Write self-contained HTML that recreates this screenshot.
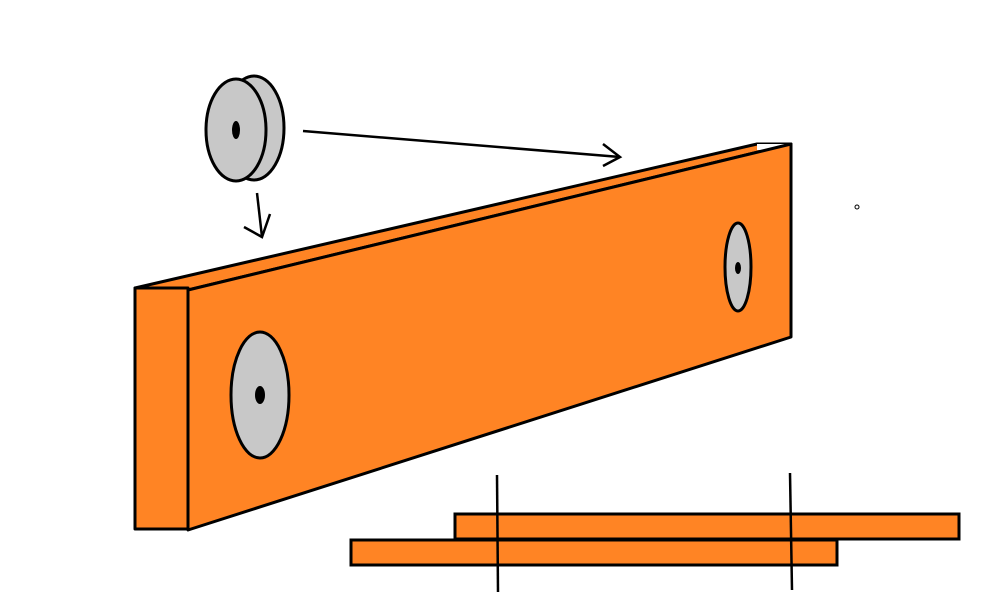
<!DOCTYPE html>
<html><head><style>html,body{margin:0;padding:0;background:#fff}svg{display:block}</style></head>
<body>
<svg width="1000" height="600" viewBox="0 0 1000 600" xmlns="http://www.w3.org/2000/svg">
<g stroke="#000" stroke-width="3" stroke-linejoin="round" fill="#ff8424">
<polygon points="135,288 757,144 791,144 188,290"/>
<polygon points="757,144 791,144 791,150 757,150" fill="#fff" stroke="none"/>
<polygon points="188,290 791,144 791,337 188,530"/>
<rect x="135" y="288" width="53" height="241"/>
</g>
<g stroke="#000" stroke-width="3" fill="#c8c8c8">
<ellipse cx="260" cy="395" rx="29" ry="63"/>
<ellipse cx="738" cy="267" rx="13" ry="44"/>
<ellipse cx="254" cy="128" rx="30" ry="52"/>
<ellipse cx="236" cy="130" rx="30" ry="51"/>
</g>
<g fill="#000">
<ellipse cx="260" cy="395" rx="5" ry="9"/>
<ellipse cx="738" cy="268" rx="3" ry="6"/>
<ellipse cx="236" cy="130" rx="4" ry="9"/>
</g>
<circle cx="857" cy="207" r="2" fill="none" stroke="#000" stroke-width="1"/>
<g stroke="#000" stroke-width="2.5" fill="none">
<line x1="257" y1="193" x2="262" y2="237"/>
<polyline points="244,227 262,237 270,214"/>
<line x1="303" y1="131" x2="620" y2="157"/>
<polyline points="603,144 620,157 603,166"/>
</g>
<g stroke="#000" stroke-width="3" fill="#ff8424">
<rect x="455" y="514" width="504" height="25"/>
<rect x="351" y="540" width="486" height="25"/>
</g>
<g stroke="#000" stroke-width="2.5">
<line x1="497" y1="475" x2="498" y2="592"/>
<line x1="790" y1="473" x2="792" y2="590"/>
</g>
</svg>
</body></html>
